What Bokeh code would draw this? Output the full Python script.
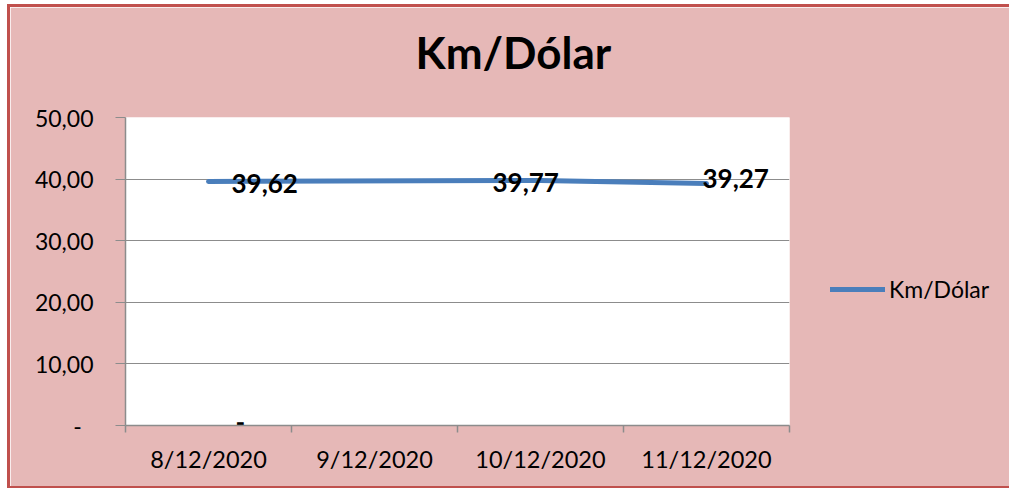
from bokeh.plotting import figure
from bokeh.models import (Range1d, FixedTicker, CustomJSTickFormatter,
                          Legend, LegendItem, ColumnDataSource, Title)
from bokeh.core.properties import value
from bokeh.embed import file_html
from bokeh.resources import INLINE

# ---- data ----
categories = ["8/12/2020", "9/12/2020", "10/12/2020", "11/12/2020"]
km_dolar = [39.62, None, 39.77, 39.27]
series_name = "Km/Dólar"
y_ticks = [0, 10, 20, 30, 40, 50]

# ---- styles ----
FONT = "Lato"
BG = "#E6B8B7"
BORDER = "#C0504D"
GRID = "#8C8C8C"
LINE = "#4A7EBB"
# per-label screen offsets (px) for the data labels
label_dx = [23, -139, -48, -4]
label_dy = [2, -3, 2, -5]

xs = [i + 0.5 for i in range(len(categories))]
pts_x = [x for x, v in zip(xs, km_dolar) if v is not None]
pts_y = [v for v in km_dolar if v is not None]

lab_y = [v if v is not None else 0 for v in km_dolar]
lab_t = [("%.2f" % v).replace(".", ",") if v is not None else "-" for v in km_dolar]
lab_src = ColumnDataSource(dict(x=xs, y=lab_y, t=lab_t, dx=label_dx, dy=label_dy))

p = figure(frame_width=664, frame_height=308, output_backend="svg",
           toolbar_location=None,
           x_range=Range1d(0, len(categories)), y_range=Range1d(0, 50),
           min_border_left=115, min_border_right=220, min_border_top=110,
           min_border_bottom=61)
p.styles = {"border-left": "3px solid " + BORDER, "border-top": "3px solid " + BORDER,
            "border-bottom": "2px solid " + BORDER,
            "margin-left": "7px", "margin-top": "4px"}
p.border_fill_color = BG
p.background_fill_color = "white"
p.outline_line_color = None

# title: a blank spacer next to the frame, then the real title above it
p.title.text = ""
p.add_layout(Title(text=" ", text_font=FONT, text_font_size="10px", standoff=26),
             "above")
p.add_layout(Title(text=series_name, align="left", vertical_align="bottom",
                   offset=290, standoff=0, text_font=FONT, text_font_style="bold",
                   text_font_size="44px", text_color="black"), "above")

# grid
p.xgrid.grid_line_color = None
p.ygrid.grid_line_color = GRID
p.ygrid.grid_line_width = 1
p.ygrid.ticker = FixedTicker(ticks=y_ticks)

# y axis
ya = p.yaxis[0]
ya.ticker = FixedTicker(ticks=y_ticks)
ya.formatter = CustomJSTickFormatter(
    code="return tick == 0 ? '-\\u00a0\\u00a0' : tick.toFixed(2).replace('.', ',');")
ya.axis_line_color = GRID
ya.axis_line_width = 1.5
ya.major_tick_line_color = GRID
ya.major_tick_out = 10
ya.major_tick_in = 0
ya.minor_tick_line_color = None
ya.major_label_text_font = FONT
ya.major_label_text_font_size = "23px"
ya.major_label_text_color = "black"
ya.major_label_standoff = 22

# x axis
xa = p.xaxis[0]
xa.ticker = FixedTicker(ticks=xs, minor_ticks=list(range(len(categories) + 1)))
xa.formatter = CustomJSTickFormatter(args=dict(cats=categories),
                                     code="return cats[Math.floor(tick)];")
xa.axis_line_color = GRID
xa.axis_line_width = 1.5
xa.major_tick_line_color = None
xa.minor_tick_line_color = GRID
xa.minor_tick_line_width = 1.5
xa.minor_tick_out = 7
xa.minor_tick_in = 0
xa.major_label_text_font = FONT
xa.major_label_text_font_size = "23.5px"
xa.major_label_text_color = "black"
xa.major_label_standoff = 12

# line
r = p.line(pts_x, pts_y, line_color=LINE, line_width=5, line_cap="round",
           line_join="round")

# data labels
p.text(x="x", y="y", text="t", x_offset="dx", y_offset="dy", source=lab_src,
       text_font=value(FONT), text_font_style="bold", text_font_size="26px",
       text_color="black", text_align="left", text_baseline="alphabetic")

# legend
legend = Legend(items=[LegendItem(label=series_name, renderers=[r])],
                location=(41, 122), glyph_width=55, glyph_height=20,
                label_height=20, label_standoff=4, padding=0, margin=0, spacing=0,
                border_line_color=None, background_fill_alpha=0,
                label_text_font=FONT, label_text_font_size="23px",
                label_text_color="black")
p.add_layout(legend, "right")

open("out.html", "w").write(file_html(p, INLINE))
